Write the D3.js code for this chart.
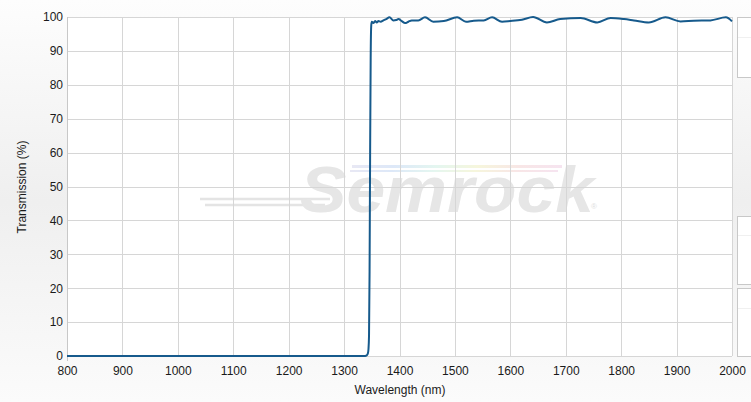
<!DOCTYPE html>
<html><head><meta charset="utf-8">
<script src="https://cdn.jsdelivr.net/npm/d3@7"></script>
<style>html,body{margin:0;padding:0;}svg{display:block;}</style>
</head><body>
<script>
// ---- data ----
const wavelengths = [800, 1000, 1200, 1300, 1338, 1341, 1343, 1344, 1345, 1346, 1347, 1348, 1349, 1350, 1353, 1356, 1359, 1362, 1366, 1371, 1376, 1382, 1389, 1394, 1398, 1404, 1410, 1416, 1422, 1434, 1446, 1461, 1480, 1504, 1520, 1534, 1552, 1567, 1585, 1600, 1621, 1641, 1666, 1690, 1727, 1757, 1781, 1805, 1823, 1850, 1880, 1907, 1931, 1961, 1989, 2000];
const transmission = [0, 0, 0, 0, 0, 0.2, 0.8, 2, 6, 25, 60, 88, 97.5, 98.6, 98.2, 98.8, 98.4, 98.8, 98.6, 99.0, 99.4, 99.9, 99.0, 99.1, 99.4, 98.8, 98.2, 98.6, 99.0, 99.0, 99.9, 98.6, 98.8, 99.9, 98.6, 98.9, 99.0, 99.9, 98.6, 98.8, 99.2, 100.0, 98.4, 99.4, 99.7, 98.4, 99.7, 99.4, 99.0, 98.4, 99.9, 98.7, 98.9, 99.0, 99.9, 98.7];
const xTicks = [800, 900, 1000, 1100, 1200, 1300, 1400, 1500, 1600, 1700, 1800, 1900, 2000];
const yTicks = [0, 10, 20, 30, 40, 50, 60, 70, 80, 90, 100];
const xTitle = "Wavelength (nm)";
const yTitle = "Transmission (%)";
const brand = "Semrock";

const W = 751, H = 402;
const m = {left: 67, right: 19, top: 17, bottom: 46};
const svg = d3.select("body").append("svg").attr("width", W).attr("height", H);
const defs = svg.append("defs");
const bg = defs.append("linearGradient").attr("id", "bg").attr("x1", 0).attr("y1", 0).attr("x2", 0).attr("y2", 1);
bg.append("stop").attr("offset", "0%").attr("stop-color", "#fdfdfd");
bg.append("stop").attr("offset", "50%").attr("stop-color", "#efefef");
bg.append("stop").attr("offset", "100%").attr("stop-color", "#fbfbfb");
const rb = defs.append("linearGradient").attr("id", "rb").attr("x1", 0).attr("y1", 0).attr("x2", 1).attr("y2", 0);
["#e8e8f4", "#dde8f8", "#e4f6f0", "#f6f6dc", "#f8e6e6", "#f6e4f0"].forEach((c, i, a) =>
  rb.append("stop").attr("offset", (i / (a.length - 1) * 100) + "%").attr("stop-color", c));

svg.append("rect").attr("width", W).attr("height", H).attr("fill", "url(#bg)");

const x = d3.scaleLinear().domain([800, 2000]).range([m.left, W - m.right]);
const y = d3.scaleLinear().domain([0, 100]).range([H - m.bottom, m.top]);

// plot background
svg.append("rect").attr("x", x(800)).attr("y", y(100)).attr("width", x(2000) - x(800)).attr("height", y(0) - y(100)).attr("fill", "#fff");

// side panels (partially visible UI)
[[17, 77, 37], [216, 284, 235], [288, 356, 308]].forEach(([a, b, c]) => {
  svg.append("rect").attr("x", 737.5).attr("y", a + 0.5).attr("width", 30).attr("height", b - a).attr("fill", "#fff").attr("stroke", "#c8c8c8");
  svg.append("line").attr("x1", 738).attr("x2", 751).attr("y1", c + 0.5).attr("y2", c + 0.5).attr("stroke", "#f0f0f0");
});

// watermark
const wm = svg.append("g");
wm.append("rect").attr("x", 352).attr("y", 165).attr("width", 210).attr("height", 3).attr("fill", "url(#rb)");
wm.append("rect").attr("x", 350).attr("y", 170).attr("width", 208).attr("height", 2).attr("fill", "url(#rb)");
wm.append("path").attr("d", "M200,199 L330,199 M205,205 L325,205").attr("stroke", "#e4e4e4").attr("stroke-width", 2.5).attr("fill", "none");
wm.append("text").attr("x", 300).attr("y", 212).attr("font-family", "Liberation Sans, Arial, sans-serif")
  .attr("font-weight", "bold").attr("font-style", "italic").attr("font-size", 64)
  .attr("textLength", 294).attr("lengthAdjust", "spacingAndGlyphs").attr("fill", "#e6e6e6").text(brand);
wm.append("text").attr("x", 591).attr("y", 209).attr("font-family", "Liberation Sans, Arial, sans-serif")
  .attr("font-size", 8).attr("fill", "#e0e0e0").text("®");

// grid
const grid = svg.append("g");
grid.selectAll(".vx").data(xTicks).join("line")
  .attr("x1", d => Math.round(x(d)) + 0.5).attr("x2", d => Math.round(x(d)) + 0.5)
  .attr("y1", y(100)).attr("y2", y(0)).attr("stroke", "#d6d6d6");
grid.selectAll(".hy").data(yTicks).join("line")
  .attr("x1", x(800)).attr("x2", x(2000))
  .attr("y1", d => Math.round(y(d)) + 0.5).attr("y2", d => Math.round(y(d)) + 0.5).attr("stroke", "#d6d6d6");
svg.append("line").attr("x1", x(800) + 0.5).attr("x2", x(800) + 0.5).attr("y1", y(100)).attr("y2", y(0) + 5).attr("stroke", "#c8c8c8");

// axes
const font = "Liberation Sans, Arial, sans-serif";
const xAxis = svg.append("g").attr("transform", `translate(0,${y(0)})`)
  .call(d3.axisBottom(x).tickValues(xTicks).tickSize(0).tickPadding(10).tickFormat(d3.format("d")));
const yAxis = svg.append("g").attr("transform", `translate(${x(800)},0)`)
  .call(d3.axisLeft(y).tickValues(yTicks).tickSize(0).tickPadding(4).tickFormat(d3.format("d")));
[xAxis, yAxis].forEach(g => {
  g.select(".domain").remove();
  g.selectAll("text").attr("font-family", font).attr("font-size", 12).attr("fill", "#1a1a1a");
});

svg.append("text").attr("x", 400).attr("y", 394).attr("text-anchor", "middle")
  .attr("font-family", font).attr("font-size", 12).attr("fill", "#1a1a1a").text(xTitle);
svg.append("text").attr("transform", "translate(25.5,187) rotate(-90)").attr("text-anchor", "middle")
  .attr("font-family", font).attr("font-size", 12).attr("fill", "#1a1a1a").text(yTitle);

// curve
const pts = wavelengths.map((w, i) => [w, transmission[i]]);
svg.append("path").datum(pts)
  .attr("d", d3.line().x(d => x(d[0])).y(d => y(d[1])).curve(d3.curveMonotoneX))
  .attr("fill", "none").attr("stroke", "#165a8c").attr("stroke-width", 2).attr("stroke-linejoin", "round");
</script>
</body></html>
